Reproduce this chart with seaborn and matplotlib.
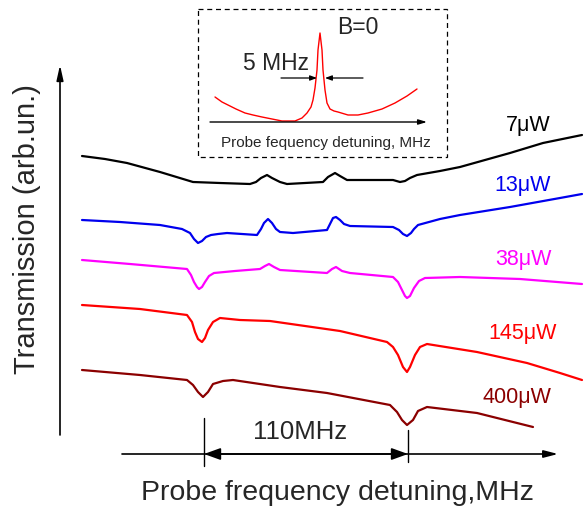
import matplotlib
matplotlib.use("Agg")
import matplotlib.pyplot as plt
import seaborn as sns

# traces (x, y in picture units, y grows downward)
x_7uw = [82, 105, 127, 160, 193, 220, 250, 256, 261, 267, 272, 280, 287, 305, 323, 328, 335, 340, 347, 370, 393, 400, 405, 410, 417, 440, 460, 485, 510, 543, 582]
y_7uw = [156, 159, 163, 172, 182, 183, 184, 182, 178, 175, 178, 182, 184, 183, 182, 177, 173, 176, 180, 180, 180, 182, 181, 178, 175, 171, 167, 160, 153, 143, 135]
x_13uw = [82, 120, 160, 182, 190, 194, 198, 202, 206, 211, 218, 227, 257, 261, 264, 268, 272, 276, 280, 293, 327, 330, 333, 336, 340, 344, 350, 393, 399, 403, 407, 411, 414, 418, 440, 460, 510, 560, 582]
y_13uw = [220, 222, 225, 229, 233, 239, 243, 241, 237, 235, 234, 233, 235, 229, 223, 219, 223, 229, 232, 233, 230, 224, 218, 217, 220, 224, 226, 227, 230, 234, 236, 233, 229, 225, 219, 215, 207, 198, 194]
x_38uw = [82, 130, 187, 191, 194, 197, 199, 202, 205, 209, 214, 235, 260, 265, 269, 274, 280, 327, 332, 336, 342, 350, 393, 398, 402, 405, 407, 410, 414, 419, 425, 460, 520, 582]
y_38uw = [260, 264, 269, 275, 282, 287, 289, 287, 282, 276, 273, 271, 269, 266, 264, 267, 270, 273, 269, 267, 271, 273, 277, 282, 290, 296, 298, 296, 288, 281, 278, 277, 279, 284]
x_145uw = [82, 140, 187, 192, 195, 198, 202, 205, 208, 213, 220, 240, 270, 340, 387, 393, 398, 403, 407, 410, 415, 420, 427, 477, 527, 560, 582]
y_145uw = [305, 309, 315, 322, 332, 339, 342, 338, 330, 322, 318, 320, 321, 331, 342, 347, 355, 367, 372, 367, 355, 347, 344, 352, 363, 373, 380]
x_400uw = [82, 140, 187, 193, 198, 203, 208, 213, 223, 233, 280, 327, 390, 397, 402, 407, 413, 418, 427, 477, 533]
y_400uw = [370, 375, 380, 385, 392, 397, 392, 384, 381, 380, 387, 393, 405, 412, 420, 425, 420, 411, 407, 413, 427]
x_inset = [215, 222, 228, 236, 245, 253, 262, 272, 282, 295, 302, 307, 311, 313, 315, 317, 318, 320, 322, 323, 325, 327, 330, 334, 338, 348, 358, 368, 382, 395, 407, 417]
y_inset = [97, 102, 105, 109, 113, 115, 117, 119, 121, 121, 118, 113, 107, 100, 88, 70, 50, 33, 50, 70, 90, 103, 109, 111, 112, 115, 115, 113, 109, 103, 96, 89]

traces = [
    (x_7uw, y_7uw, "black", "7μW", 528, 125),
    (x_13uw, y_13uw, "#0000ee", "13μW", 523, 185),
    (x_38uw, y_38uw, "#ff00ff", "38μW", 523, 259),
    (x_145uw, y_145uw, "#ff0000", "145μW", 523, 334),
    (x_400uw, y_400uw, "#8b0000", "400μW", 517, 397),
]

sns.set_style("white")
plt.rcParams["font.family"] = ["Liberation Sans", "DejaVu Sans"]

fig = plt.figure(figsize=(5.84, 5.15), dpi=100)
ax = fig.add_axes([0, 0, 1, 1])
ax.set_xlim(0, 584)
ax.set_ylim(515, 0)
ax.axis("off")

for xs, ys, col, lab, tx, ty in traces:
    sns.lineplot(x=xs, y=ys, color=col, lw=1.6, sort=False, estimator=None, ax=ax)
    ax.text(tx, ty, lab, color=col, fontsize=15.5, ha="center", va="center")

# y axis arrow
ax.annotate("", xy=(60, 65), xytext=(60, 435),
            arrowprops=dict(arrowstyle="-|>,head_length=0.9,head_width=0.2", color="black", lw=1.2,
                            shrinkA=0, shrinkB=0))
ax.text(27, 229, "Transmission (arb.un.)", rotation=90, fontsize=21, ha="center", va="center")

# bottom detuning axis
ax.annotate("", xy=(558, 454), xytext=(122, 454),
            arrowprops=dict(arrowstyle="-|>,head_length=0.85,head_width=0.22", color="black", lw=1.2,
                            shrinkA=0, shrinkB=0))
ax.annotate("", xy=(204, 454), xytext=(408, 454),
            arrowprops=dict(arrowstyle="<|-|>,head_length=1.0,head_width=0.36", color="black", lw=1.2,
                            shrinkA=0, shrinkB=0))
ax.plot([204, 204], [418, 466], color="black", lw=1)
ax.plot([408, 408], [430, 462], color="black", lw=1)
ax.text(300, 432, "110MHz", fontsize=18.5, ha="center", va="center")
ax.text(337, 493, "Probe frequency detuning,MHz", fontsize=20.5, ha="center", va="center")

# inset
ax.add_patch(plt.Rectangle((198, 9), 249, 148, fill=False, ls=(0, (4, 3)), lw=0.9, color="black"))
sns.lineplot(x=x_inset, y=y_inset, color="red", lw=1, sort=False, estimator=None, ax=ax)
ax.annotate("", xy=(427, 122), xytext=(210, 122),
            arrowprops=dict(arrowstyle="-|>,head_length=0.5,head_width=0.15", color="black", lw=1,
                            shrinkA=0, shrinkB=0))
ax.text(326, 143, "Probe fequency detuning, MHz", fontsize=11, ha="center", va="center")
ax.annotate("", xy=(317, 78), xytext=(281, 78),
            arrowprops=dict(arrowstyle="-|>,head_length=0.4,head_width=0.15", color="black", lw=0.9,
                            shrinkA=0, shrinkB=0))
ax.annotate("", xy=(325, 78), xytext=(363, 78),
            arrowprops=dict(arrowstyle="-|>,head_length=0.4,head_width=0.15", color="black", lw=0.9,
                            shrinkA=0, shrinkB=0))
ax.text(276, 63, "5 MHz", fontsize=16.5, ha="center", va="center")
ax.text(358, 28, "B=0", fontsize=16.5, ha="center", va="center")

fig.savefig("out.png", dpi=100, facecolor="white")
